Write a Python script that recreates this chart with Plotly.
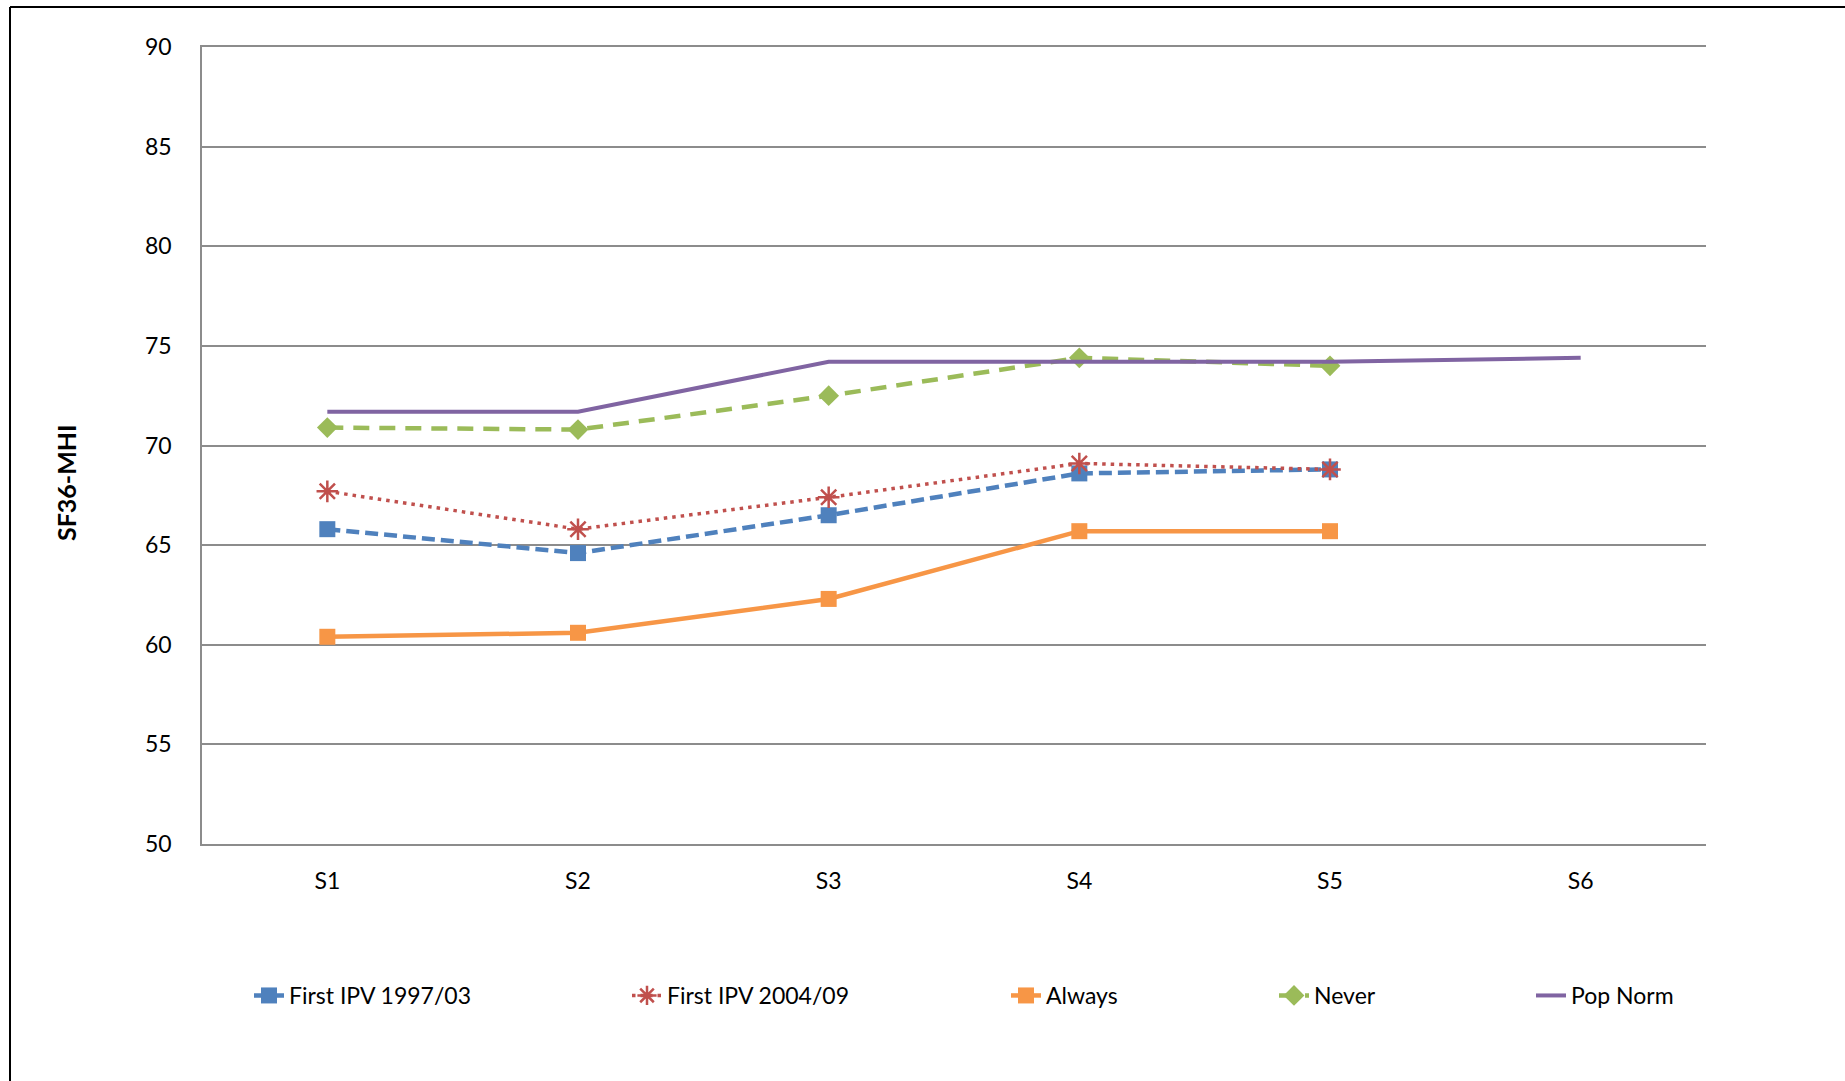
import plotly.graph_objects as go

categories = ["S1", "S2", "S3", "S4", "S5", "S6"]
first_ipv_9703 = [65.8, 64.6, 66.5, 68.6, 68.8]
first_ipv_0409 = [67.7, 65.8, 67.4, 69.1, 68.8]
always = [60.4, 60.6, 62.3, 65.7, 65.7]
never = [70.9, 70.8, 72.5, 74.4, 74.0]
pop_norm = [71.7, 71.7, 74.2, 74.2, 74.2, 74.4]
y_ticks = [50, 55, 60, 65, 70, 75, 80, 85, 90]

W, H = 1845, 1081
L, R, T, B = 202, 139, 47, 237
PW = W - L - R
PH = H - T - B

def px_x(px):
    return (px - L) / PW

def px_y(py):
    return (H - B - py) / PH

FONT = "Lato"
GRID = "#8C8C8C"
series = [
    dict(name="First IPV 1997/03", y=first_ipv_9703, color="#4F81BD",
         dash="13px,6px", width=4.5, symbol="square", size=16, legend="legend", text_x=289),
    dict(name="First IPV 2004/09", y=first_ipv_0409, color="#C0504D",
         dash="3.5px,5px", width=3.5, symbol="asterisk-open", size=18, legend="legend2", text_x=667),
    dict(name="Always", y=always, color="#F79646",
         dash="solid", width=4.5, symbol="square", size=16, legend="legend3", text_x=1046),
    dict(name="Never", y=never, color="#9BBB59",
         dash="16px,10px", width=4.5, symbol="diamond", size=16, legend="legend4", text_x=1314),
    dict(name="Pop Norm", y=pop_norm, color="#8064A2",
         dash="solid", width=4, symbol=None, size=0, legend="legend5", text_x=1571),
]

fig = go.Figure()
legend_layouts = {}
for s in series:
    n = len(s["y"])
    marker = dict(color=s["color"], size=s["size"], symbol=s["symbol"] or "circle")
    if s["symbol"] == "asterisk-open":
        marker["line"] = dict(color=s["color"], width=2.5)
    fig.add_trace(go.Scatter(
        x=categories[:n], y=s["y"], name=s["name"],
        mode="lines+markers" if s["symbol"] else "lines",
        line=dict(color=s["color"], width=s["width"], dash=s["dash"]),
        marker=marker,
        legend=s["legend"],
    ))
    legend_layouts[s["legend"]] = dict(
        x=px_x(s["text_x"] - 40), xanchor="left",
        y=px_y(995.5), yanchor="middle",
        orientation="h", bgcolor="rgba(0,0,0,0)",
        font=dict(family=FONT, size=23, color="#000000"),
        itemclick=False, itemdoubleclick=False,
    )

fig.update_layout(
    width=W, height=H,
    margin=dict(l=L, r=R, t=T, b=B, pad=0),
    paper_bgcolor="white", plot_bgcolor="white",
    font=dict(family=FONT, size=23, color="#000000"),
    showlegend=True,
    **legend_layouts,
)
fig.update_xaxes(
    type="category", categoryorder="array", categoryarray=categories,
    range=[-0.5, 5.5], showgrid=False, zeroline=False,
    showline=True, mirror=True, linecolor=GRID, linewidth=1.5,
    ticks="", ticklabelstandoff=16,
    tickfont=dict(family=FONT, size=23, color="#000000"),
)
fig.update_yaxes(
    range=[50, 90], tickvals=y_ticks, ticktext=[str(v) for v in y_ticks],
    showgrid=True, gridcolor=GRID, gridwidth=1.5,
    showline=True, linecolor=GRID, linewidth=1.5,
    zeroline=False, ticks="", ticklabelstandoff=24,
    tickfont=dict(family=FONT, size=23, color="#000000"),
)
fig.add_annotation(
    text="<b>SF36-MHI</b>", textangle=-90, showarrow=False,
    xref="paper", yref="paper", x=px_x(66), y=px_y(483),
    xanchor="center", yanchor="middle",
    font=dict(family=FONT, size=25, color="#000000"),
)
# outer chart frame (top and left edges)
fig.add_shape(type="line", xref="paper", yref="paper",
              x0=px_x(10), x1=px_x(W + 5), y0=px_y(7), y1=px_y(7),
              line=dict(color="#000000", width=2))
fig.add_shape(type="line", xref="paper", yref="paper",
              x0=px_x(10), x1=px_x(10), y0=px_y(7), y1=px_y(H + 5),
              line=dict(color="#000000", width=2))

fig.write_html(
    "out.html",
    config={"displayModeBar": False},
    post_script="document.body.style.margin='0';document.body.style.overflow='hidden';",
)
